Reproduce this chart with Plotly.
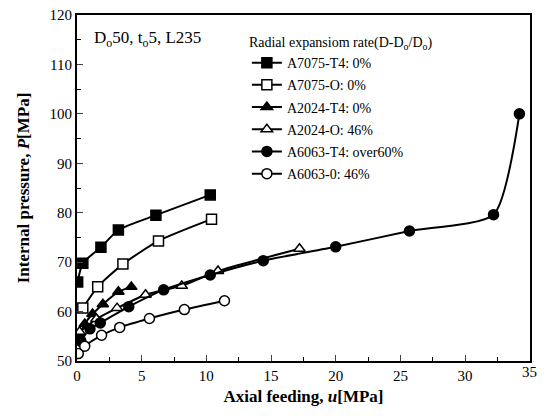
import plotly.graph_objects as go

# Data
u_7075_T4 = [0.05, 0.45, 1.85, 3.2, 6.1, 10.3]
p_7075_T4 = [66.0, 69.8, 73.0, 76.5, 79.5, 83.6]

u_7075_O = [0.45, 1.6, 3.55, 6.3, 10.4]
p_7075_O = [60.7, 65.0, 69.6, 74.3, 78.7]

u_2024_T4 = [0.2, 0.6, 1.2, 2.0, 3.2, 4.2]
p_2024_T4 = [55.0, 57.5, 59.5, 61.5, 64.0, 65.0]

u_2024_O = [0.2, 1.5, 3.1, 5.3, 8.1, 10.9, 17.2]
p_2024_O = [55.9, 58.5, 60.7, 63.4, 65.2, 68.2, 72.7]

u_6063_T4 = [0.3, 1.0, 1.8, 4.0, 6.7, 10.3, 14.4, 20.0, 25.7, 32.2, 34.2]
p_6063_T4 = [54.0, 56.5, 57.7, 61.0, 64.4, 67.4, 70.3, 73.1, 76.3, 79.6, 100.0]

u_6063_O = [0.1, 0.6, 1.9, 3.3, 5.6, 8.3, 11.4]
p_6063_O = [51.5, 53.0, 55.2, 56.8, 58.6, 60.4, 62.2]

names = ["A7075-T4: 0%", "A7075-O: 0%", "A2024-T4: 0%", "A2024-O: 46%",
         "A6063-T4: over60%", "A6063-0: 46%"]
series = [(u_7075_T4, p_7075_T4, "square", True), (u_7075_O, p_7075_O, "square", False),
          (u_2024_T4, p_2024_T4, "triangle-up", True), (u_2024_O, p_2024_O, "triangle-up", False),
          (u_6063_T4, p_6063_T4, "circle", True), (u_6063_O, p_6063_O, "circle", False)]

x_tickvals = [0, 5, 10, 15, 20, 25, 30]
x_ticktext = ["0", "5", "10", "15", "20", "25", "30"]
x_end = 35

FONT = "Liberation Serif"
fig = go.Figure()
for i, ((u, p, sym, filled), nm) in enumerate(zip(series, names)):
    fig.add_trace(go.Scatter(
        x=u, y=p, name=nm, mode="lines+markers", legendgroup=str(i),
        line=dict(color="black", width=2, shape="spline", smoothing=0.6),
        marker=dict(symbol=sym, size=10, color="black" if filled else "white",
                    line=dict(color="black", width=1.5)),
    ))

# page body has an 8px margin: size the figure to fit inside the window (no scrollbars)
fig.update_layout(
    width=535, height=398,
    margin=dict(l=69, r=13, t=7, b=45, autoexpand=False),
    paper_bgcolor="white", plot_bgcolor="white",
    font=dict(family=FONT, size=14, color="black"),
    showlegend=True,
    legend=dict(x=0.375, y=0.96, xanchor="left", yanchor="top",
                bgcolor="rgba(0,0,0,0)", tracegroupgap=1,
                font=dict(family=FONT, size=14),
                title=dict(text="Radial expansiom rate(D-D<sub>o</sub>/D<sub>o</sub>)",
                           font=dict(family=FONT, size=14))),
    annotations=[
        dict(x=0.033, y=0.93, xref="paper", yref="paper", xanchor="left",
             yanchor="middle", showarrow=False,
             text="D<sub>o</sub>50, t<sub>o</sub>5, L235",
             font=dict(family=FONT, size=17)),
        # end-of-axis tick label (plotly drops it at the range edge)
        dict(x=x_end, y=0, xref="x", yref="paper", xanchor="center",
             yanchor="top", showarrow=False, yshift=-1, text=str(x_end),
             font=dict(family=FONT, size=15)),
    ],
)
fig.update_xaxes(range=[0, 35.02], tickmode="array", tickvals=x_tickvals,
                 ticktext=x_ticktext,
                 ticks="inside", ticklen=6,
                 minor=dict(tickvals=[2.5, 7.5, 12.5, 17.5, 22.5, 27.5, 32.5],
                            ticks="inside", ticklen=4, tickcolor="black"),
                 showline=True, linecolor="black", linewidth=2, mirror=True,
                 showgrid=False, zeroline=False, automargin=False,
                 ticklabeloverflow="allow",
                 tickfont=dict(family=FONT, size=15),
                 title=dict(text="<b>Axial feeding, <i>u</i>[MPa]</b>",
                            font=dict(family=FONT, size=17), standoff=11))
fig.update_yaxes(range=[50, 120], dtick=10, tick0=50, ticks="inside", ticklen=6,
                 minor=dict(dtick=5, ticks="inside", ticklen=4, tickcolor="black"),
                 showline=True, linecolor="black", linewidth=2, mirror=True,
                 showgrid=False, zeroline=False, automargin=False,
                 ticklabeloverflow="allow",
                 tickfont=dict(family=FONT, size=15),
                 title=dict(text="<b>Internal pressure, <i>P</i>[MPa]</b>",
                            font=dict(family=FONT, size=17), standoff=16))

fig.write_html("out.html")
